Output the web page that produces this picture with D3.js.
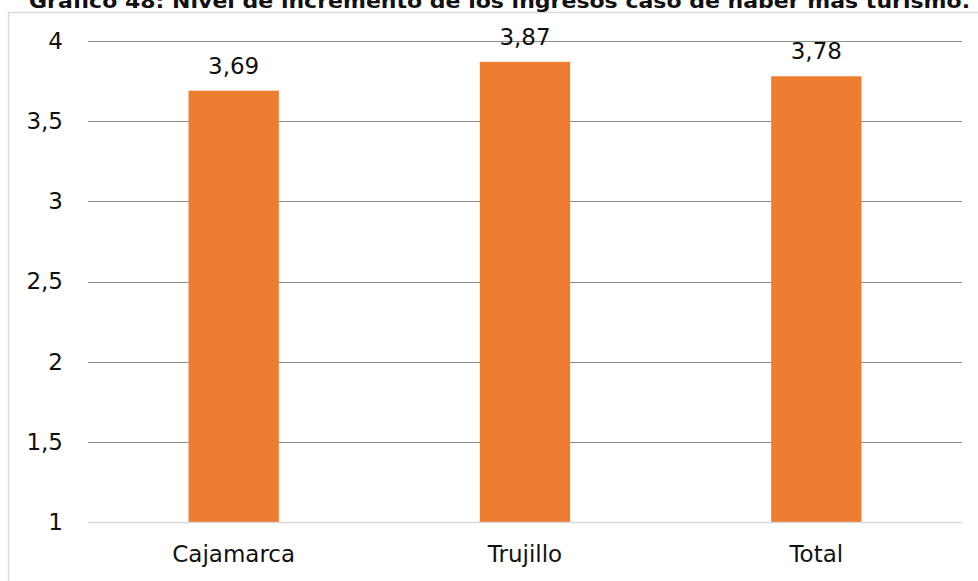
<!DOCTYPE html>
<html>
<head>
<meta charset="utf-8">
<script src="https://cdn.jsdelivr.net/npm/d3@7"></script>
<style>
  body { margin: 0; background: #fff; }
  svg { display: block; font-family: "DejaVu Sans", sans-serif; }
</style>
</head>
<body>
<div id="chart"></div>
<script>
var width = 978,
    height = 581;

var title = 'Gráfico 48: Nivel de incremento de los ingresos caso de haber más turismo.';
var categories = ['Cajamarca', 'Trujillo', 'Total'];
var values = [3.69, 3.87, 3.78];
var ticks = [1, 1.5, 2, 2.5, 3, 3.5, 4];

var margin = {top: 41, right: 16, bottom: 59, left: 88};

var svg = d3.select('#chart')
    .append('svg')
    .attr('width', width)
    .attr('height', height);

// chart area border
svg.append('rect')
    .attr('x', 8.5)
    .attr('y', 12.5)
    .attr('width', 1000)
    .attr('height', 1000)
    .attr('fill', 'none')
    .attr('stroke', '#d9d9d9')
    .attr('stroke-width', 1.5);

svg.append('text')
    .attr('x', 29)
    .attr('y', 8)
    .attr('font-size', 19)
    .attr('font-weight', 'bold')
    .attr('textLength', 941)
    .attr('lengthAdjust', 'spacingAndGlyphs')
    .attr('fill', '#111')
    .text(title);

var x = d3.scaleBand()
    .domain(categories)
    .range([margin.left, width - margin.right])
    .paddingInner(0.69)
    .paddingOuter(0.345);

var y = d3.scaleLinear()
    .domain([1, 4])
    .range([height - margin.bottom, margin.top]);

var fmt = d => String(d).replace('.', ',');

// gridlines
svg.append('g')
    .selectAll('line')
    .data(ticks.filter(t => t > 1))
    .enter()
    .append('line')
    .attr('x1', margin.left)
    .attr('x2', width - margin.right)
    .attr('y1', d => Math.round(y(d)) + 0.5)
    .attr('y2', d => Math.round(y(d)) + 0.5)
    .attr('stroke', '#8c8c8c')
    .attr('stroke-width', 1);

// y axis labels
var yAxis = d3.axisLeft(y)
    .tickValues(ticks)
    .tickFormat(fmt)
    .tickSize(0)
    .tickPadding(0);

svg.append('g')
    .attr('transform', 'translate(63,0)')
    .call(yAxis)
    .call(g => g.select('.domain').remove())
    .selectAll('text')
    .attr('font-family', '"DejaVu Sans", sans-serif')
    .attr('font-size', 23)
    .attr('fill', '#111');

svg.append('g')
    .selectAll('rect')
    .data(values)
    .enter()
    .append('rect')
    .attr('x', (d, i) => x(categories[i]))
    .attr('y', d => y(d))
    .attr('width', x.bandwidth())
    .attr('height', d => y(1) - y(d))
    .attr('fill', '#ed7d31');

// baseline
svg.append('line')
    .attr('x1', margin.left)
    .attr('x2', width - margin.right)
    .attr('y1', y(1) + 0.5)
    .attr('y2', y(1) + 0.5)
    .attr('stroke', '#d9d9d9')
    .attr('stroke-width', 1.5);

// value labels
svg.append('g')
    .selectAll('text')
    .data(values)
    .enter()
    .append('text')
    .attr('x', (d, i) => x(categories[i]) + x.bandwidth() / 2)
    .attr('y', d => y(d) - 17)
    .attr('text-anchor', 'middle')
    .attr('font-size', 23)
    .attr('fill', '#111')
    .text(fmt);

// category labels
var xAxis = d3.axisBottom(x).tickSize(0).tickPadding(0);

svg.append('g')
    .attr('transform', 'translate(0,' + (height - margin.bottom) + ')')
    .call(xAxis)
    .call(g => g.select('.domain').remove())
    .selectAll('text')
    .attr('dy', 0)
    .attr('y', 40)
    .attr('font-family', '"DejaVu Sans", sans-serif')
    .attr('font-size', 23)
    .attr('fill', '#111');
</script>
</body>
</html>
